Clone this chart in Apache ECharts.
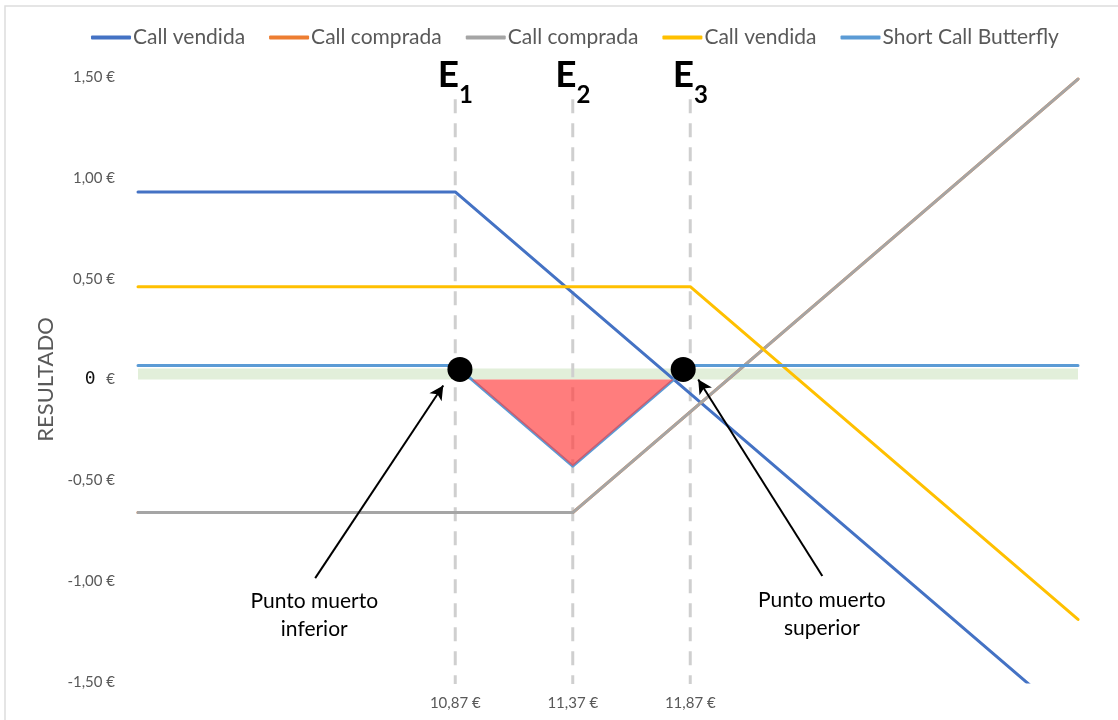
<!DOCTYPE html>
<html>
<head>
<meta charset="utf-8">
<title>Short Call Butterfly</title>
<script src="https://cdn.jsdelivr.net/npm/echarts@6/dist/echarts.min.js"></script>
<style>
  html, body { margin: 0; padding: 0; background: #ffffff; }
  #chart { width: 1118px; height: 720px; }
</style>
</head>
<body>
<div id="chart"></div>
<script>
// Precio del subyacente en los puntos donde cambia la pendiente
const precios = [9.52, 10.87, 11.37, 11.87, 13.52];

// Resultado de cada pata de la estrategia (€)
const callVendidaE1 = [0.93, 0.93, 0.43, -0.07, -1.72];
const callCompradaE2a = [-0.66, -0.66, -0.66, -0.16, 1.49];
const callCompradaE2b = [-0.66, -0.66, -0.66, -0.16, 1.49];
const callVendidaE3 = [0.46, 0.46, 0.46, 0.46, -1.19];
const shortCallButterfly = [0.07, 0.07, -0.43, 0.07, 0.07];

// Precios de ejercicio
const strikes = [10.87, 11.37, 11.87];
const strikeNames = ['1', '2', '3'];

// Zona de pérdidas bajo el eje
const perdidaX = [10.94, 11.37, 11.80];
const perdidaY = [0, -0.43, 0];

// Puntos muertos
const puntosMuertosX = [10.89, 11.84];
const puntosMuertosY = [0.05, 0.05];

// Anotaciones: texto y flecha (origen -> destino)
const notas = ['Punto muerto\ninferior', 'Punto muerto\nsuperior'];
const notasX = [10.27, 12.43];
const notasY = [-1.168, -1.163];
const flechaDesde = [[10.274, -0.985], [12.432, -0.974]];
const flechaHasta = [[10.819, -0.03], [11.904, 0.0]];

// Nombres de las series y texto de leyenda
const seriesNames = ['Call vendida E1', 'Call comprada E2 a', 'Call comprada E2 b', 'Call vendida E3', 'Short Call Butterfly'];
const legendLabels = ['Call vendida', 'Call comprada', 'Call comprada', 'Call vendida', 'Short Call Butterfly'];
const seriesColors = ['#4472c4', '#ed7d31', '#a5a5a5', '#ffc000', '#5b9bd5'];
const seriesValues = [callVendidaE1, callCompradaE2a, callCompradaE2b, callVendidaE3, shortCallButterfly];

const yTicks = { min: -1.5, max: 1.5, interval: 0.5 };

const FONT = 'Lato, "Open Sans", sans-serif';
const GREY_TEXT = '#595959';

function euro(v) {
  return v.toFixed(2).replace('.', ',') + ' €';
}

const pair = (xs, ys) => xs.map((x, i) => [x, ys[i]]);

// Líneas verticales discontinuas en cada precio de ejercicio
const guideSeries = strikes.map(s => ({
  name: 'ejercicio ' + s,
  type: 'line',
  data: [[s, 1.39], [s, -1.51]],
  symbol: 'none',
  clip: false,
  silent: true,
  z: 2,
  lineStyle: { color: '#cfcfcf', width: 3, type: [14, 10] }
}));

const payoffSeries = seriesValues.map((vals, i) => ({
  name: seriesNames[i],
  type: 'line',
  data: pair(precios, vals),
  symbol: 'none',
  color: seriesColors[i],
  lineStyle: { width: 3, color: seriesColors[i], cap: 'round', join: 'round' },
  z: 3,
  silent: true
}));

const chart = echarts.init(document.getElementById('chart'), null, { renderer: 'canvas' });

const option = {
  animation: false,
  backgroundColor: '#ffffff',
  graphic: [{
    type: 'rect',
    shape: { x: 5, y: 6, width: 1200, height: 800 },
    style: { fill: 'none', stroke: '#dddddd', lineWidth: 1.5 },
    silent: true,
    z: 0
  }],
  grid: { left: 138, right: 40, top: 77, bottom: 38, containLabel: false },
  legend: {
    data: seriesNames,
    left: 86,
    top: 22,
    itemWidth: 40,
    itemHeight: 4,
    itemGap: 24,
    icon: 'roundRect',
    selectedMode: false,
    formatter: name => legendLabels[seriesNames.indexOf(name)],
    textStyle: { fontFamily: FONT, fontSize: 21, color: GREY_TEXT, padding: [0, 0, 0, -3] }
  },
  xAxis: {
    type: 'value',
    min: precios[0],
    max: precios[precios.length - 1],
    axisLine: { show: false },
    axisTick: { show: false },
    splitLine: { show: false },
    axisLabel: {
      customValues: strikes,
      formatter: v => euro(v),
      margin: 14,
      fontFamily: FONT,
      fontSize: 15,
      color: GREY_TEXT
    }
  },
  yAxis: {
    type: 'value',
    min: yTicks.min,
    max: yTicks.max,
    interval: yTicks.interval,
    name: 'RESULTADO',
    nameLocation: 'middle',
    nameGap: 80,
    nameTextStyle: { fontFamily: FONT, fontSize: 22, color: GREY_TEXT },
    axisLine: { show: false },
    axisTick: { show: false },
    splitLine: { show: false },
    axisLabel: {
      margin: 23,
      fontFamily: FONT,
      fontSize: 15,
      color: GREY_TEXT,
      formatter: v => (Math.abs(v) < 1e-9 ? '{z|0 }{eu|€}' : euro(v)),
      rich: {
        z: { fontFamily: '"DejaVu Sans Mono", monospace', fontSize: 18, color: '#111111' },
        eu: { fontFamily: FONT, fontSize: 15, color: GREY_TEXT }
      }
    }
  },
  series: [
    // Banda del eje cero
    {
      name: 'banda cero',
      type: 'line',
      data: [],
      silent: true,
      z: 1,
      markArea: {
        silent: true,
        itemStyle: { color: '#e2efda' },
        data: [[{ coord: [precios[0], 0] }, { coord: [precios[precios.length - 1] + 0.015, 0.055] }]]
      }
    },
    ...guideSeries,
    ...payoffSeries,
    // Zona de pérdidas
    {
      name: 'perdidas',
      type: 'line',
      data: pair(perdidaX, perdidaY),
      symbol: 'none',
      lineStyle: { width: 0 },
      areaStyle: { color: 'rgba(255, 64, 64, 0.68)', opacity: 1, origin: 0 },
      silent: true,
      z: 4
    },
    // Puntos muertos
    {
      name: 'puntos muertos',
      type: 'scatter',
      data: pair(puntosMuertosX, puntosMuertosY),
      symbol: 'circle',
      symbolSize: 25,
      itemStyle: { color: '#000000', opacity: 1 },
      silent: true,
      z: 6
    },
    // Flechas y textos de los puntos muertos
    {
      name: 'notas',
      type: 'scatter',
      data: notasX.map((x, i) => ({ value: [x, notasY[i]], label: { formatter: notas[i] } })),
      symbolSize: 0,
      itemStyle: { opacity: 1 },
      silent: true,
      z: 7,
      label: {
        show: true,
        position: 'inside',
        align: 'center',
        verticalAlign: 'middle',
        fontFamily: FONT,
        fontSize: 21,
        lineHeight: 28,
        color: '#000000'
      },
      markLine: {
        silent: true,
        symbol: ['none', 'arrow'],
        symbolSize: [11, 14],
        label: { show: false },
        lineStyle: { color: '#000000', width: 2, type: 'solid', opacity: 1 },
        itemStyle: { color: '#000000' },
        data: flechaDesde.map((d, i) => [{ coord: d }, { coord: flechaHasta[i] }])
      }
    },
    // Etiquetas E1, E2, E3
    {
      name: 'ejercicios',
      type: 'scatter',
      data: strikes.map((s, i) => ({ value: [s, 1.475], label: { formatter: '{e|E}{s|' + strikeNames[i] + '}' } })),
      symbolSize: 0,
      itemStyle: { opacity: 1 },
      silent: true,
      z: 7,
      label: {
        show: true,
        position: 'inside',
        align: 'center',
        rich: {
          e: { fontFamily: FONT, fontWeight: 'bold', fontSize: 37, lineHeight: 40, verticalAlign: 'top', color: '#000000' },
          s: { fontFamily: FONT, fontWeight: 'bold', fontSize: 24, lineHeight: 50, verticalAlign: 'bottom', color: '#000000' }
        }
      }
    }
  ]
};

chart.setOption(option);
</script>
</body>
</html>
